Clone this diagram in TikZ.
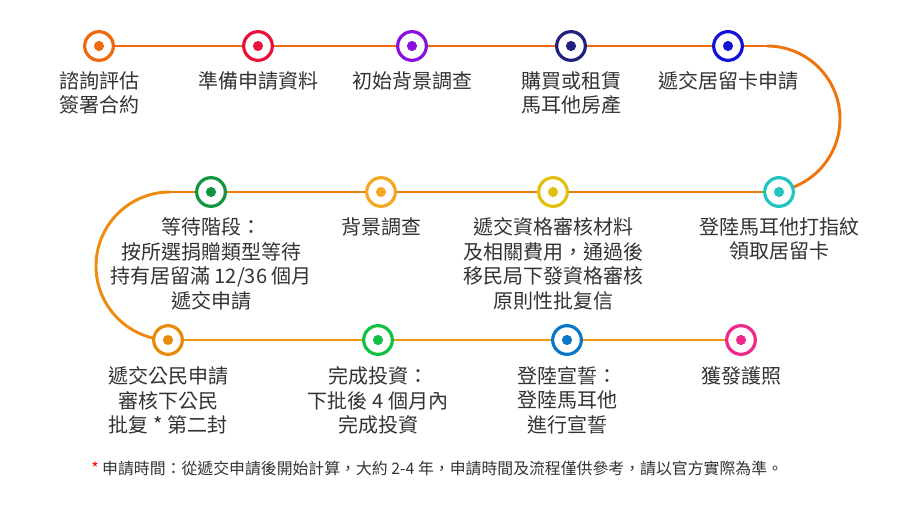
\documentclass[tikz,border=0pt]{standalone}
\usepackage{fontspec}
\setmainfont{Noto Sans CJK TC}
\definecolor{lineA}{HTML}{EE6A0C}
\definecolor{lineB}{HTML}{EF7D0E}
\definecolor{lineC}{HTML}{F09A14}
\definecolor{txt}{HTML}{333333}
\definecolor{c1}{HTML}{EE6A0C}
\definecolor{c2}{HTML}{E8123C}
\definecolor{c3}{HTML}{8A10E0}
\definecolor{c4}{HTML}{20207E}
\definecolor{c5}{HTML}{1212D8}
\definecolor{c6}{HTML}{20C4C0}
\definecolor{c7}{HTML}{E0C010}
\definecolor{c8}{HTML}{F5A623}
\definecolor{c9}{HTML}{109640}
\definecolor{c10}{HTML}{E88A0A}
\definecolor{c11}{HTML}{12C044}
\definecolor{c12}{HTML}{0A78C8}
\definecolor{c13}{HTML}{F0288C}
\tikzset{
  stage/.style={circle,draw=#1,fill=white,line width=2.4pt,minimum size=21.5pt,inner sep=0pt,
    path picture={\fill[#1] (path picture bounding box.center) circle (3.8pt);}},
  lbl/.style={anchor=north,align=center,inner sep=0pt,text=txt,font=\fontsize{15pt}{18.6pt}\selectfont},
  track/.style={line width=2.2pt}
}
\begin{document}
\begin{tikzpicture}[x=0.75pt,y=-0.75pt]
\useasboundingbox[fill=white] (0,0) rectangle (900,510);
% track
\coordinate (tS) at (99,46);
\coordinate (tE) at (767,46);
\coordinate (mR) at (767,192);
\coordinate (mL) at (170,192);
\coordinate (bL) at (170,340);
\coordinate (bE) at (741,340);
\draw[track,lineA] (tS) -- (tE);
\draw[track,lineA!50!lineB] (tE) arc[start angle=-90,end angle=90,radius=73];
\draw[track,lineB] (mR) -- (mL);
\draw[track,lineB!50!lineC] (mL) arc[start angle=-90,end angle=-270,radius=74];
\draw[track,lineC] (bL) -- (bE);
% stages
\node[stage=c1] (s1) at (99,46) {};
\node[stage=c2] (s2) at (258,46) {};
\node[stage=c3] (s3) at (412,46) {};
\node[stage=c4] (s4) at (571,46) {};
\node[stage=c5] (s5) at (728,46) {};
\node[stage=c6] (s6) at (779,192) {};
\node[stage=c7] (s7) at (553,192) {};
\node[stage=c8] (s8) at (381,192) {};
\node[stage=c9] (s9) at (211,192) {};
\node[stage=c10] (s10) at (168,340) {};
\node[stage=c11] (s11) at (378,340) {};
\node[stage=c12] (s12) at (567,340) {};
\node[stage=c13] (s13) at (741,340) {};
% labels
\node[lbl] (l1) at (99,71) {諮詢評估\\簽署合約};
\node[lbl] (l2) at (258,71) {準備申請資料};
\node[lbl] (l3) at (412,71) {初始背景調查};
\node[lbl] (l4) at (571,71) {購買或租賃\\馬耳他房產};
\node[lbl] (l5) at (728,71) {遞交居留卡申請};
\node[lbl] (l6) at (779,217) {登陸馬耳他打指紋\\領取居留卡};
\node[lbl] (l7) at (553,217) {遞交資格審核材料\\及相關費用，通過後\\移民局下發資格審核\\原則性批复信};
\node[lbl] (l8) at (381,217) {背景調查};
\node[lbl] (l9) at (211,217) {等待階段：\\按所選捐贈類型等待\\持有居留滿 12/36 個月\\遞交申請};
\node[lbl] (l10) at (168,366) {遞交公民申請\\審核下公民\\批复 * 第二封};
\node[lbl] (l11) at (378,366) {完成投資：\\下批後 4 個月內\\完成投資};
\node[lbl] (l12) at (567,366) {登陸宣誓：\\登陸馬耳他\\進行宣誓};
\node[lbl] (l13) at (741,366) {獲發護照};
% footnote
\node[anchor=west,inner sep=0pt,text=txt,font=\fontsize{11.9pt}{14pt}\selectfont] (fn) at (91,468)
  {\textcolor{red}{*} 申請時間：從遞交申請後開始計算，大約 2-4 年，申請時間及流程僅供參考，請以官方實際為準。};
\end{tikzpicture}
\end{document}
